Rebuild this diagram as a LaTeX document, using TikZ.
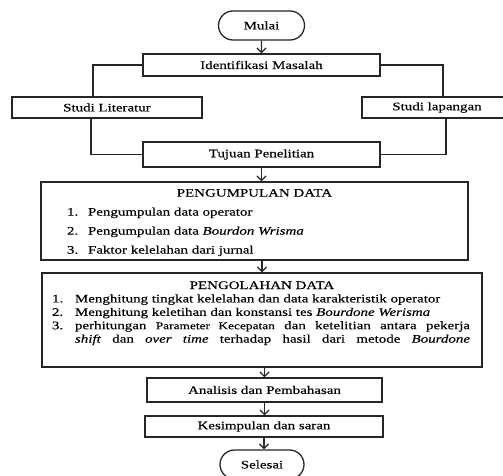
\documentclass[tikz,border=0pt]{standalone}
\usepackage{fontspec}
\setmainfont{Liberation Serif}[FakeStretch=1.3,FakeBold=0.3]
\usetikzlibrary{shapes.misc}
\usetikzlibrary{arrows.meta}
\tikzset{
	flownode/.style = {
		draw=black!85,
		line width=1.3pt,
		inner sep=0pt,
		align=center,
		font=\fontsize{11.5}{13.5}\selectfont
	},
	node_term/.style = {
		flownode,
		rounded rectangle,
		minimum width=86pt,
		minimum height=29pt
	},
	node_proc/.style = {
		flownode,
		rectangle,
		minimum height=22pt
	},
	node_data/.style = {
		flownode,
		rectangle
	},
	line_flow/.style = {
		draw=black!85,
		line width=1.3pt
	},
	arrow_flow/.style = {
		line_flow,
		-{Straight Barb[length=4.5pt,width=9pt]}
	},
}

\begin{document}
\begin{tikzpicture}[x=1pt,y=1pt]
\useasboundingbox (0,0) rectangle (503,-476);
\node [node_term] (mulai) at (261.5,-25.5) {Mulai};
\node [node_proc, minimum width=237pt] (ident) at (261.5,-65) {Identifikasi Masalah};
\node [node_proc, minimum width=190pt, minimum height=21pt] (literatur) at (107,-107.5) {Studi Literatur};
\node [node_proc, minimum width=150pt, minimum height=21pt] (lapangan) at (437,-107.5) {Studi lapangan};
\node [node_proc, minimum width=237pt, minimum height=25pt] (tujuan) at (261.5,-154.5) {Tujuan Penelitian};
% data boxes
\node [node_data] (kumpul) at (254.5,-221) {\parbox[c][78pt][t]{427pt}{\fontsize{11.5}{19}\selectfont
	\vspace*{7pt}\makebox[427pt]{PENGUMPULAN DATA}\\
	\hspace*{26pt}\makebox[21pt][l]{1.}Pengumpulan data operator\\
	\hspace*{26pt}\makebox[21pt][l]{2.}Pengumpulan data \textit{Bourdon Wrisma}\\
	\hspace*{26pt}\makebox[21pt][l]{3.}Faktor kelelahan dari jurnal}};
\node [node_data] (olah) at (262,-320) {\parbox[c][94pt][t]{440pt}{\fontsize{11.5}{13.4}\selectfont
	\vspace*{8.4pt}\makebox[440pt]{PENGOLAHAN DATA}\\
	\hspace*{10pt}\makebox[23pt][l]{1.}Menghitung tingkat kelelahan dan data karakteristik operator\\
	\hspace*{10pt}\makebox[23pt][l]{2.}Menghitung keletihan dan konstansi tes \textit{Bourdone Werisma}\\
	\hspace*{10pt}\makebox[23pt][l]{3.}\parbox[t]{395pt}{\parfillskip=0pt
		perhitungan {\fontsize{10.3}{13.4}\selectfont Parameter Kecepatan} dan ketelitian antara pekerja\linebreak
		\textit{shift} dan \textit{over time} terhadap hasil dari metode \textit{Bourdone}}}};
\node [node_proc, minimum width=235pt, minimum height=24pt] (analisis) at (264.5,-390) {Analisis dan Pembahasan};
\node [node_proc, minimum width=238pt, minimum height=21pt] (simpul) at (264,-426.5) {Kesimpulan dan saran};
\node [node_term, minimum width=84pt] (selesai) at (262,-464.5) {Selesai};
% main flow
\draw [arrow_flow] (mulai) -- (ident);
\draw [arrow_flow] (tujuan.south) -- (tujuan.south |- kumpul.north);
\draw [arrow_flow] (olah.north |- kumpul.south) -- (olah.north);
\draw [arrow_flow] (analisis.north |- olah.south) -- (analisis.north);
\draw [arrow_flow] (analisis.south) -- (analisis.south |- simpul.north);
\draw [arrow_flow] (simpul.south) -- (simpul.south |- selesai.north);
% branches
\draw [line_flow] (ident.west) -| ([xshift=-14pt]literatur.north);
\draw [line_flow] ([xshift=-16pt]literatur.south) |- (tujuan.west);
\draw [line_flow] (ident.east) -| ([xshift=6pt]lapangan.north);
\draw [line_flow] ([xshift=9pt]lapangan.south) |- (tujuan.east);
\end{tikzpicture}
\end{document}
